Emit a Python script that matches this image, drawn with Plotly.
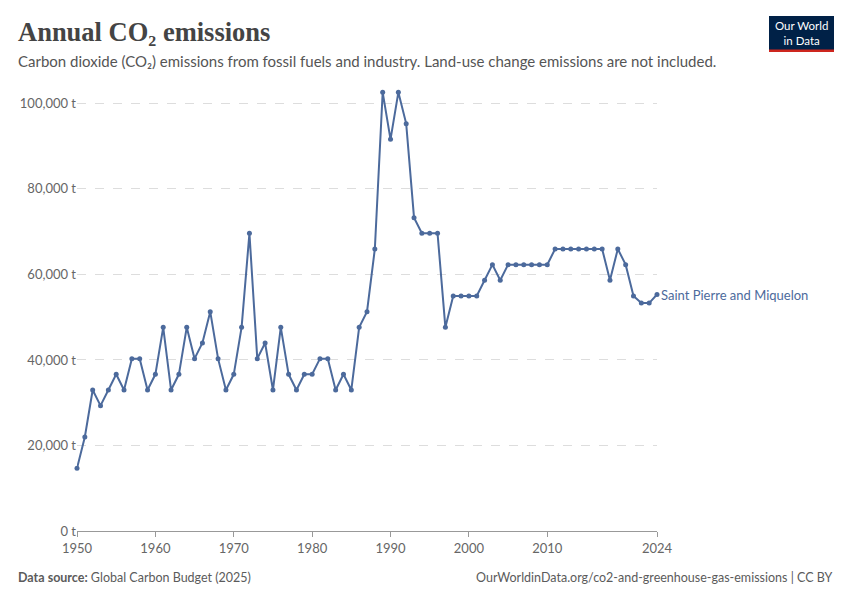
import plotly.graph_objects as go

years = list(range(1950, 2025))
values = [14656, 21984, 32976, 29312, 32976, 36640, 32976, 40304, 40304, 32976,
          36640, 47632, 32976, 36640, 47632, 40304, 43968, 51296, 40304, 32976,
          36640, 47632, 69616, 40304, 43968, 32976, 47632, 36640, 32976, 36640,
          36640, 40304, 40304, 32976, 36640, 32976, 47632, 51296,
          65952, 102592, 91600, 102592, 95264, 73280, 69616, 69616, 69616,
          47632, 54960, 54960, 54960, 54960, 58624, 62288, 58624,
          62288, 62288, 62288, 62288, 62288, 62288,
          65952, 65952, 65952, 65952, 65952, 65952, 65952,
          58624, 65952, 62288, 54960, 53300, 53300, 55300]
xticks = [1950, 1960, 1970, 1980, 1990, 2000, 2010, 2024]
yticks = [0, 20000, 40000, 60000, 80000, 100000]
ytext = ["0 t", "20,000 t", "40,000 t", "60,000 t", "80,000 t", "100,000 t"]
color = "#4c6a9c"

OFF = 8  # page body margin
L, R, T, B = 77, 657, 82, 531
fig = go.Figure(go.Scatter(x=years, y=values, mode="lines+markers",
                           line=dict(color=color, width=2), marker=dict(size=5, color=color),
                           cliponaxis=False, showlegend=False))
fig.update_layout(
    width=850, height=600, plot_bgcolor="white", paper_bgcolor="white",
    margin=dict(l=L - OFF, r=850 - (R - OFF), t=T - OFF, b=600 - (B - OFF), autoexpand=False),
    font=dict(family="Lato, sans-serif", color="#5b5b5b", size=13),
    xaxis=dict(range=[1950, 2024], tickvals=xticks, ticktext=[str(t) for t in xticks],
               showgrid=False, showline=True, linecolor="#999", ticks="outside",
               ticklen=5, tickcolor="#999", zeroline=False, tickfont=dict(size=13, color="#666")),
    yaxis=dict(range=[0, 105000], tickvals=yticks, ticktext=ytext, showgrid=True,
               gridcolor="#dddddd", griddash="dash", zeroline=False, ticks="",
               tickfont=dict(size=13, color="#666")),
)
fig.add_annotation(x=2024, y=values[-1], xref="x", yref="y", text="Saint Pierre and Miquelon",
                   showarrow=False, xanchor="left", xshift=2, font=dict(color=color, size=13))

W, H = R - L, B - T
def px2paper(px, py):
    return (px - L) / W, (B - py) / H

def ann(px, py, text, size, col, anchor="left", family="Lato, sans-serif"):
    x, y = px2paper(px, py)
    fig.add_annotation(xref="paper", yref="paper", x=x, y=y,
                       xanchor=anchor, yanchor="middle", text=text, showarrow=False, align="center",
                       font=dict(family=family, size=size, color=col))

ann(16, 32, "<b>Annual CO₂ emissions</b>", 26.5, "#444", family="Liberation Serif, serif")
ann(16, 61, "Carbon dioxide (CO₂) emissions from fossil fuels and industry. Land-use change emissions are not included.", 15, "#555")
ann(16, 577, "<b>Data source:</b> Global Carbon Budget (2025)", 12.5, "#5b5b5b")
ann(834, 577, "OurWorldinData.org/co2-and-greenhouse-gas-emissions | CC BY", 12.5, "#5b5b5b", anchor="right")
x0, y0 = px2paper(769, 52)
x1, y1 = px2paper(834, 16)
_, yr = px2paper(769, 49.5)
fig.add_shape(type="rect", xref="paper", yref="paper", x0=x0, x1=x1, y0=y0, y1=y1,
              fillcolor="#002147", line_width=0)
fig.add_shape(type="rect", xref="paper", yref="paper", x0=x0, x1=x1, y0=y0, y1=yr,
              fillcolor="#ce261e", line_width=0)
ann(801.5, 33, "Our World<br>in Data", 11.5, "white", anchor="center")
fig.write_html("out.html")
